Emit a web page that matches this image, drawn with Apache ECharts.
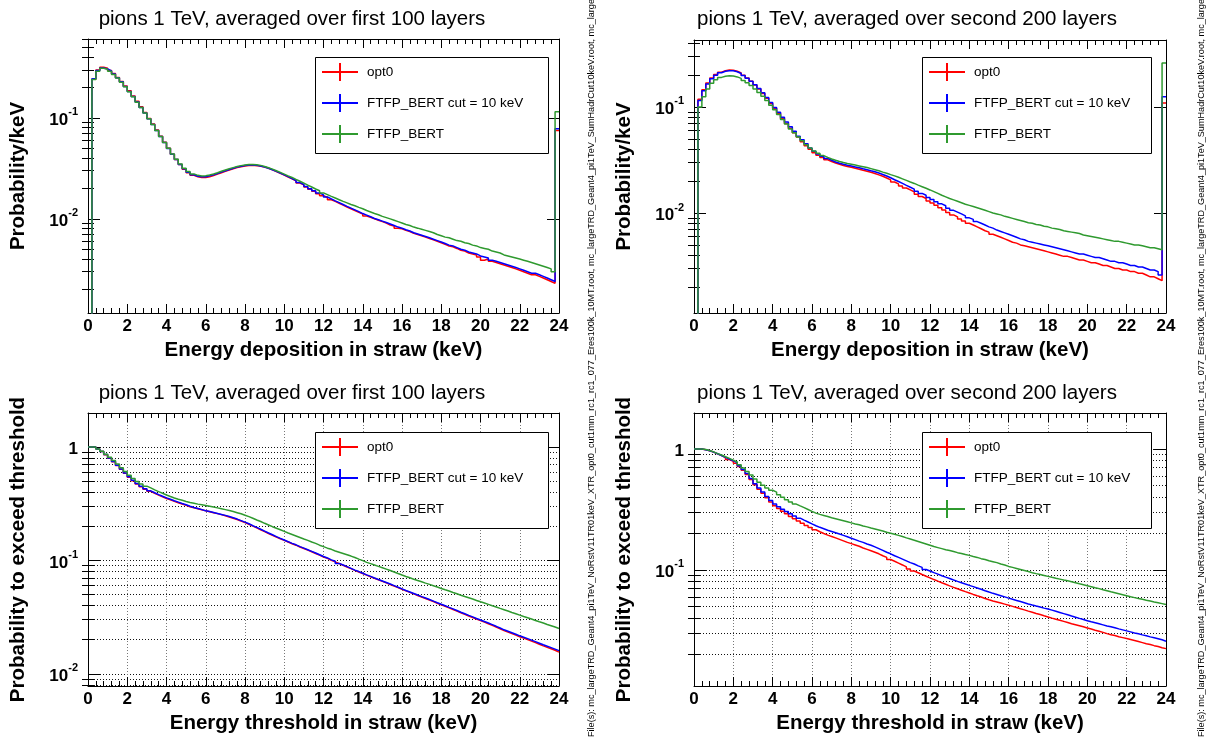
<!DOCTYPE html>
<html><head><meta charset="utf-8">
<script src="https://cdn.jsdelivr.net/npm/echarts@6/dist/echarts.min.js"></script>
<style>html,body{margin:0;padding:0;background:#fff}#c{width:1218px;height:740px}</style>
</head><body><div id="c"></div>
<script>
// ---------- data ----------
const BIN_WIDTH = 0.2; // keV, histogram bin width (120 bins from 0 to 24 keV)
const SERIES_NAMES = ['opt0', 'FTFP_BERT cut = 10 keV', 'FTFP_BERT'];
const SERIES_COLORS = ['#ff0000', '#0000ff', '#2f9a2f'];
const TITLE_FIRST = 'pions 1 TeV, averaged over first 100 layers';
const TITLE_SECOND = 'pions 1 TeV, averaged over second 200 layers';
const X_NAME_DEP = 'Energy deposition in straw (keV)';
const X_NAME_THR = 'Energy threshold in straw (keV)';
const Y_NAME_DEP = 'Probability/keV';
const Y_NAME_THR = 'Probability to exceed threshold';
const FILE_TEXT = 'File(s): mc_largeTRD_Geant4_pi1TeV_NoRstV11TR01keV_XTR_opt0_cut1mm_rc1_rc1_077_Eres100k_10MT.root, mc_largeTRD_Geant4_pi1TeV_SumHadrCut10keV.root, mc_large';

// y ranges and major (labelled) ticks
const Y_RANGE_TL = [0.00117, 0.605];
const Y_RANGE_TR = [0.00114, 0.428];
const Y_RANGE_BL = [0.0078, 1.99];
const Y_RANGE_BR = [0.011, 1.98];
const Y_MAJOR_TL = [0.01, 0.1];
const Y_MAJOR_TR = [0.01, 0.1];
const Y_MAJOR_BL = [0.01, 0.1, 1];
const Y_MAJOR_BR = [0.1, 1];

// Top-left: energy deposition, first 100 layers (probability / keV per 0.2 keV bin)
const TL_OPT0 = [0.0005,0.242,0.298,0.318,0.31,0.295,0.276,0.252,0.23,0.207,
 0.186,0.165,0.146,0.129,0.113,0.099,0.087,0.076,0.066,0.0575,
 0.05,0.0438,0.0387,0.0345,0.0311,0.0286,0.0271,0.0262,0.0257,0.0257,
 0.0262,0.0269,0.0278,0.0287,0.0296,0.0305,0.0314,0.0322,0.0329,0.0335,
 0.0338,0.0339,0.0337,0.0332,0.0326,0.0317,0.0306,0.0295,0.0283,0.0272,
 0.026,0.0249,0.0238,0.0227,0.0217,0.0207,0.0197,0.0188,0.0178,0.017,
 0.0163,0.0155,0.0149,0.0143,0.0137,0.0131,0.0126,0.0121,0.0116,0.0112,
 0.0107,0.0104,0.01,0.0097,0.0094,0.0091,0.0087,0.0085,0.0081,0.008,
 0.0077,0.0075,0.0072,0.007,0.0068,0.0066,0.0064,0.0062,0.006,0.0058,
 0.0056,0.0054,0.0053,0.0051,0.0049,0.0048,0.0046,0.0045,0.0044,0.0042,
 0.0039,0.004,0.0038,0.0037,0.0036,0.0035,0.0034,0.0033,0.0032,0.0031,
 0.003,0.0029,0.0028,0.0028,0.0027,0.0026,0.0025,0.0024,0.0023,0.075];
const TL_CUT10 = [0.0005,0.245,0.295,0.312,0.305,0.292,0.272,0.25,0.228,0.205,
 0.183,0.163,0.144,0.127,0.112,0.098,0.086,0.075,0.0655,0.057,
 0.0497,0.0437,0.0388,0.0346,0.0314,0.0289,0.0274,0.0265,0.0261,0.0262,
 0.0267,0.0274,0.0282,0.0291,0.03,0.0309,0.0318,0.0326,0.0333,0.0338,
 0.0341,0.0341,0.0339,0.0334,0.0327,0.0318,0.0307,0.0296,0.0284,0.0273,
 0.0262,0.0251,0.024,0.0229,0.0219,0.0209,0.0199,0.019,0.0181,0.0173,
 0.0165,0.0158,0.0151,0.0145,0.0139,0.0133,0.0128,0.0123,0.0118,0.0113,
 0.0109,0.0105,0.0101,0.0098,0.0095,0.0092,0.0089,0.0086,0.0083,0.0081,
 0.0078,0.0076,0.0073,0.0071,0.0069,0.0067,0.0065,0.0063,0.0061,0.0059,
 0.0057,0.0055,0.0054,0.0052,0.005,0.0049,0.0047,0.0046,0.0045,0.0043,
 0.0042,0.0041,0.0039,0.0038,0.0037,0.0036,0.0035,0.0034,0.0033,0.0032,
 0.0031,0.003,0.0029,0.0029,0.0028,0.0027,0.0026,0.0025,0.0024,0.078];
const TL_FTFP = [0.0005,0.24,0.29,0.31,0.304,0.29,0.27,0.249,0.226,0.204,
 0.182,0.162,0.143,0.127,0.112,0.098,0.086,0.075,0.0655,0.0572,
 0.05,0.044,0.039,0.0349,0.0318,0.0294,0.0279,0.027,0.0266,0.0267,
 0.0272,0.0279,0.0287,0.0296,0.0305,0.0314,0.0322,0.033,0.0337,0.0342,
 0.0345,0.0346,0.0344,0.0339,0.0331,0.0321,0.0311,0.03,0.0289,0.0278,
 0.0267,0.0257,0.0246,0.0236,0.0226,0.0216,0.0207,0.0198,0.019,0.0181,
 0.0174,0.0167,0.0161,0.0155,0.0149,0.0144,0.0139,0.0135,0.013,0.0126,
 0.0121,0.0117,0.0113,0.011,0.0106,0.0103,0.01,0.0097,0.0094,0.0091,
 0.0088,0.0086,0.0083,0.0081,0.0079,0.0077,0.0075,0.0073,0.007,0.0068,
 0.0066,0.0065,0.0063,0.0061,0.006,0.0058,0.0057,0.0055,0.0054,0.0052,
 0.0051,0.005,0.0048,0.0047,0.0046,0.0044,0.0043,0.0042,0.0041,0.004,
 0.0039,0.0038,0.0037,0.0036,0.0035,0.0034,0.0033,0.0032,0.003,0.115];

// Top-right: energy deposition, second 200 layers
const TR_OPT0 = [0.0005,0.118,0.145,0.168,0.188,0.202,0.213,0.22,0.223,0.222,
 0.217,0.209,0.199,0.188,0.175,0.161,0.148,0.134,0.121,0.108,
 0.097,0.087,0.078,0.07,0.063,0.057,0.052,0.047,0.043,0.04,
 0.037,0.035,0.0333,0.0318,0.0306,0.0296,0.0288,0.0281,0.0275,0.027,
 0.0264,0.0259,0.0253,0.0248,0.0242,0.0236,0.0229,0.0222,0.0214,0.0205,
 0.0196,0.0188,0.018,0.0172,0.0165,0.0158,0.015,0.0143,0.0137,0.013,
 0.0124,0.0118,0.0112,0.0107,0.0101,0.0096,0.0092,0.0088,0.0084,0.008,
 0.0077,0.0074,0.0071,0.0068,0.0066,0.0063,0.0061,0.0059,0.0057,0.0055,
 0.0053,0.0052,0.005,0.0049,0.0048,0.0047,0.0046,0.0045,0.0044,0.0043,
 0.0042,0.0041,0.004,0.0039,0.0039,0.0038,0.0037,0.0036,0.0036,0.0035,
 0.0034,0.0034,0.0033,0.0032,0.0032,0.0031,0.003,0.003,0.0029,0.0029,
 0.0028,0.0028,0.0027,0.0027,0.0026,0.0025,0.0025,0.0024,0.0023,0.109];
const TR_CUT10 = [0.0005,0.115,0.142,0.165,0.185,0.199,0.21,0.217,0.22,0.219,
 0.215,0.207,0.198,0.187,0.175,0.162,0.149,0.136,0.123,0.11,
 0.099,0.089,0.08,0.072,0.065,0.059,0.053,0.049,0.045,0.041,
 0.0382,0.036,0.0342,0.0327,0.0314,0.0303,0.0295,0.0288,0.0282,0.0277,
 0.0272,0.0267,0.0261,0.0256,0.025,0.0245,0.0238,0.0231,0.0223,0.0215,
 0.0206,0.0198,0.019,0.0182,0.0175,0.0168,0.016,0.0153,0.0147,0.014,
 0.0134,0.0128,0.0122,0.0117,0.0111,0.0106,0.0102,0.0098,0.0094,0.009,
 0.0087,0.0083,0.008,0.0077,0.0074,0.0072,0.0069,0.0067,0.0065,0.0063,
 0.0061,0.0059,0.0057,0.0056,0.0054,0.0053,0.0052,0.0051,0.005,0.0049,
 0.0048,0.0047,0.0046,0.0045,0.0044,0.0043,0.0042,0.0041,0.0041,0.004,
 0.0039,0.0038,0.0038,0.0037,0.0036,0.0035,0.0035,0.0034,0.0034,0.0033,
 0.0032,0.0032,0.0031,0.0031,0.003,0.0029,0.0029,0.0028,0.0026,0.125];
const TR_FTFP = [0.0005,0.1,0.125,0.148,0.167,0.181,0.19,0.195,0.197,0.196,
 0.192,0.186,0.178,0.169,0.159,0.148,0.137,0.126,0.115,0.104,
 0.094,0.085,0.076,0.069,0.062,0.057,0.052,0.048,0.044,0.041,
 0.0385,0.0365,0.0348,0.0335,0.0323,0.0314,0.0306,0.0299,0.0293,0.0288,
 0.0283,0.0278,0.0273,0.0268,0.0262,0.0256,0.025,0.0243,0.0237,0.023,
 0.0224,0.0217,0.021,0.0203,0.0196,0.019,0.0183,0.0177,0.0171,0.0165,
 0.0159,0.0153,0.0147,0.0142,0.0137,0.0133,0.0129,0.0125,0.0121,0.0118,
 0.0115,0.0112,0.0109,0.0106,0.0103,0.01,0.0098,0.0096,0.0093,0.0091,
 0.0089,0.0087,0.0085,0.0083,0.0081,0.008,0.0078,0.0077,0.0075,0.0074,
 0.0072,0.0071,0.007,0.0068,0.0067,0.0066,0.0065,0.0064,0.0062,0.0061,
 0.006,0.0059,0.0058,0.0057,0.0056,0.0055,0.0054,0.0054,0.0053,0.0052,
 0.0051,0.005,0.005,0.0049,0.0048,0.0047,0.0047,0.0046,0.0045,0.26];

// Bottom-left: probability to exceed threshold, first 100 layers
const BL_OPT0 = [1,1,0.96,0.91,0.852,0.795,0.74,0.685,0.635,0.586,
 0.541,0.503,0.471,0.445,0.424,0.406,0.39,0.376,0.363,0.351,
 0.341,0.331,0.322,0.313,0.305,0.297,0.291,0.285,0.279,0.273,
 0.268,0.263,0.258,0.253,0.247,0.241,0.235,0.229,0.222,0.215,
 0.208,0.2,0.193,0.186,0.179,0.172,0.166,0.16,0.155,0.15,
 0.145,0.14,0.136,0.131,0.127,0.123,0.119,0.115,0.111,0.107,
 0.104,0.1,0.097,0.0935,0.0904,0.0874,0.0845,0.0816,0.079,0.0765,
 0.074,0.0717,0.0694,0.0673,0.0653,0.0633,0.0613,0.0593,0.0574,0.0556,
 0.0538,0.0522,0.0506,0.049,0.0475,0.0461,0.0447,0.0433,0.0419,0.0406,
 0.0394,0.0381,0.0369,0.0357,0.0345,0.0334,0.0323,0.0313,0.0303,0.0294,
 0.0285,0.0276,0.0267,0.0258,0.0249,0.024,0.0233,0.0226,0.0219,0.0212,
 0.0206,0.02,0.0194,0.0188,0.0182,0.0176,0.0171,0.0166,0.0161,0.0155];
const BL_CUT10 = [1,1,0.96,0.91,0.855,0.8,0.745,0.69,0.64,0.59,
 0.545,0.507,0.475,0.449,0.428,0.41,0.394,0.38,0.367,0.355,
 0.345,0.335,0.326,0.317,0.309,0.3,0.292,0.286,0.28,0.274,
 0.269,0.264,0.259,0.254,0.249,0.243,0.237,0.231,0.224,0.217,
 0.21,0.202,0.195,0.188,0.181,0.174,0.168,0.162,0.156,0.151,
 0.146,0.141,0.137,0.132,0.128,0.124,0.12,0.116,0.112,0.108,
 0.105,0.101,0.098,0.094,0.091,0.088,0.085,0.082,0.0796,0.077,
 0.0745,0.0722,0.0699,0.0678,0.0658,0.0638,0.0618,0.0598,0.0579,0.056,
 0.0542,0.0526,0.051,0.0494,0.0479,0.0465,0.0451,0.0437,0.0423,0.041,
 0.0398,0.0385,0.0373,0.0361,0.0349,0.0338,0.0327,0.0317,0.0307,0.0298,
 0.0289,0.028,0.0271,0.0262,0.0253,0.0244,0.0237,0.023,0.0223,0.0216,
 0.021,0.0204,0.0198,0.0192,0.0186,0.018,0.0175,0.017,0.0165,0.016];
const BL_FTFP = [1,1,0.96,0.915,0.862,0.81,0.757,0.705,0.655,0.607,
 0.563,0.527,0.496,0.471,0.451,0.435,0.418,0.403,0.39,0.377,
 0.365,0.355,0.346,0.338,0.33,0.323,0.318,0.313,0.309,0.305,
 0.3,0.295,0.29,0.285,0.28,0.275,0.269,0.263,0.257,0.25,
 0.243,0.235,0.227,0.22,0.212,0.205,0.198,0.192,0.186,0.18,
 0.174,0.169,0.164,0.159,0.154,0.15,0.145,0.141,0.136,0.132,
 0.128,0.125,0.121,0.118,0.115,0.112,0.109,0.106,0.1025,0.0993,
 0.096,0.0935,0.091,0.0885,0.0861,0.0837,0.0813,0.0789,0.0765,0.0742,
 0.072,0.0701,0.0682,0.0664,0.0647,0.063,0.0614,0.0597,0.0581,0.0565,
 0.055,0.0536,0.0521,0.0507,0.0493,0.048,0.0468,0.0456,0.0443,0.0431,
 0.042,0.0409,0.0398,0.0388,0.0377,0.0367,0.0357,0.0347,0.0338,0.0329,
 0.032,0.0312,0.0304,0.0295,0.0287,0.028,0.0272,0.0265,0.0258,0.0251];

// Bottom-right: probability to exceed threshold, second 200 layers
const BR_OPT0 = [1,1,0.985,0.965,0.94,0.91,0.88,0.85,0.818,0.79,
 0.76,0.715,0.665,0.615,0.56,0.505,0.465,0.43,0.395,0.365,
 0.34,0.322,0.306,0.291,0.277,0.265,0.254,0.243,0.233,0.224,
 0.215,0.207,0.2,0.194,0.189,0.184,0.179,0.174,0.169,0.165,
 0.161,0.157,0.152,0.148,0.144,0.14,0.136,0.131,0.127,0.122,
 0.118,0.114,0.11,0.106,0.102,0.098,0.0948,0.0917,0.0888,0.086,
 0.0833,0.0808,0.0784,0.0761,0.0739,0.0718,0.0699,0.068,0.0662,0.0645,
 0.0628,0.0612,0.0597,0.0582,0.0568,0.0555,0.0544,0.0533,0.0522,0.0511,
 0.05,0.0489,0.0478,0.0468,0.0457,0.0447,0.0437,0.0428,0.0418,0.0409,
 0.04,0.0392,0.0384,0.0376,0.0368,0.036,0.0353,0.0346,0.0339,0.0332,
 0.0325,0.0318,0.0312,0.0305,0.0298,0.0292,0.0287,0.0281,0.0276,0.0271,
 0.0266,0.0261,0.0256,0.0251,0.0246,0.0242,0.0237,0.0233,0.0228,0.0224];
const BR_CUT10 = [1,1,0.985,0.965,0.94,0.912,0.883,0.853,0.823,0.797,
 0.77,0.725,0.675,0.625,0.57,0.515,0.475,0.44,0.405,0.375,
 0.35,0.333,0.318,0.304,0.291,0.279,0.268,0.258,0.249,0.24,
 0.232,0.225,0.219,0.213,0.208,0.203,0.198,0.193,0.188,0.183,
 0.178,0.173,0.169,0.164,0.16,0.155,0.15,0.145,0.14,0.136,
 0.131,0.127,0.123,0.119,0.115,0.112,0.108,0.105,0.101,0.098,
 0.095,0.0923,0.0897,0.0872,0.0849,0.0826,0.0805,0.0785,0.0765,0.0746,
 0.0728,0.071,0.0692,0.0674,0.0657,0.0641,0.0627,0.0613,0.0599,0.0585,
 0.0572,0.056,0.0548,0.0536,0.0524,0.0513,0.0503,0.0494,0.0484,0.0475,
 0.0466,0.0456,0.0446,0.0436,0.0426,0.0416,0.0407,0.0398,0.039,0.0381,
 0.0373,0.0366,0.0359,0.0352,0.0345,0.0339,0.0333,0.0326,0.032,0.0314,
 0.0308,0.0302,0.0297,0.0291,0.0286,0.028,0.0275,0.027,0.0265,0.0258];
const BR_FTFP = [1,1,0.99,0.97,0.945,0.915,0.89,0.862,0.835,0.808,
 0.78,0.74,0.697,0.652,0.608,0.565,0.53,0.5,0.475,0.455,
 0.44,0.418,0.398,0.38,0.364,0.35,0.338,0.327,0.316,0.305,
 0.295,0.288,0.282,0.276,0.27,0.265,0.26,0.255,0.25,0.245,
 0.24,0.236,0.231,0.227,0.222,0.218,0.214,0.21,0.205,0.201,
 0.197,0.193,0.189,0.184,0.18,0.176,0.172,0.168,0.164,0.16,
 0.156,0.153,0.15,0.147,0.145,0.142,0.139,0.137,0.134,0.132,
 0.129,0.127,0.124,0.122,0.119,0.117,0.115,0.112,0.11,0.107,
 0.105,0.103,0.101,0.099,0.097,0.095,0.0933,0.0917,0.0901,0.0885,
 0.0869,0.0854,0.084,0.0826,0.0813,0.08,0.0785,0.077,0.0756,0.0742,
 0.0728,0.0714,0.0701,0.0687,0.0674,0.0661,0.0649,0.0637,0.0625,0.0613,
 0.0601,0.0591,0.0581,0.0572,0.0562,0.0553,0.0544,0.0536,0.0527,0.0518];

// ---------- layout ----------
const FONT = '"Liberation Sans", Arial, Helvetica, sans-serif';
const PANELS = [
  { grid: {left: 88, top: 39, width: 471, height: 274}, range: Y_RANGE_TL, major: Y_MAJOR_TL,
    title: TITLE_FIRST, titlePos: [292, 19], xName: X_NAME_DEP, yName: Y_NAME_DEP,
    series: [TL_OPT0, TL_CUT10, TL_FTFP], gridLines: false, box: [315, 57, 233, 96] },
  { grid: {left: 694, top: 40, width: 472, height: 273}, range: Y_RANGE_TR, major: Y_MAJOR_TR,
    title: TITLE_SECOND, titlePos: [907, 19], xName: X_NAME_DEP, yName: Y_NAME_DEP,
    series: [TR_OPT0, TR_CUT10, TR_FTFP], gridLines: false, box: [922, 57, 229, 96] },
  { grid: {left: 88, top: 413, width: 471, height: 273}, range: Y_RANGE_BL, major: Y_MAJOR_BL,
    title: TITLE_FIRST, titlePos: [292, 393], xName: X_NAME_THR, yName: Y_NAME_THR,
    series: [BL_OPT0, BL_CUT10, BL_FTFP], gridLines: true, box: [315, 432, 233, 96] },
  { grid: {left: 694, top: 413, width: 472, height: 273}, range: Y_RANGE_BR, major: Y_MAJOR_BR,
    title: TITLE_SECOND, titlePos: [907, 393], xName: X_NAME_THR, yName: Y_NAME_THR,
    series: [BR_OPT0, BR_CUT10, BR_FTFP], gridLines: true, box: [922, 432, 229, 96] }
];

const log10 = Math.log10;
function histPoints(vals) {
  const pts = vals.map((v, i) => [+(i * BIN_WIDTH).toFixed(2), log10(v)]);
  pts.push([+(vals.length * BIN_WIDTH).toFixed(2), log10(vals[vals.length - 1])]);
  return pts;
}
function minorTicks(range) {
  const out = [];
  const lo = Math.floor(log10(range[0])), hi = Math.ceil(log10(range[1]));
  for (let e = lo; e <= hi; e++) for (let k = 2; k <= 9; k++) {
    const v = log10(k) + e;
    if (v >= log10(range[0]) && v <= log10(range[1])) out.push(v);
  }
  return out;
}
function yLabel(v) {
  const n = Math.round(v);
  if (n === 0) return '{b|1}';
  return '{b|10}{s|' + n + '}';
}
const LABEL_RICH = {
  b: {fontSize: 17, fontWeight: 'bold', fontFamily: FONT, color: '#000', lineHeight: 22, verticalAlign: 'bottom'},
  s: {fontSize: 11, fontWeight: 'bold', fontFamily: FONT, color: '#000', lineHeight: 12, verticalAlign: 'top'}
};
const BLACK = {color: '#000', width: 1};
const DOT_H = {show: true, lineStyle: {color: '#111', width: 1, type: [1, 2]}};
const DOT_V = {show: true, lineStyle: {color: '#777', width: 1, type: [1, 2]}};
const NAME_STYLE = {fontSize: 20.5, fontWeight: 'bold', color: '#000', fontFamily: FONT};
const CROSS = 'path://M0,8L17,8L17,0L19,0L19,8L36,8L36,10L19,10L19,18L17,18L17,10L0,10Z';

const xAxis = [], yAxis = [], series = [], legend = [], graphic = [];
PANELS.forEach((p, g) => {
  const ymin = log10(p.range[0]), ymax = log10(p.range[1]);
  const majors = p.major.map(log10);
  const minors = minorTicks(p.range);
  ['bottom', 'top'].forEach((pos, j) => {
    xAxis.push({
      gridIndex: g, type: 'value', min: 0, max: 24, interval: 2, position: pos,
      axisLine: {show: true, onZero: false, lineStyle: BLACK},
      axisTick: {show: true, inside: true, length: 9, lineStyle: BLACK},
      minorTick: {show: true, splitNumber: 5, length: 5, lineStyle: BLACK},
      axisLabel: {show: j === 0, margin: 5, color: '#000', fontSize: 17, fontWeight: 'bold', fontFamily: FONT},
      splitLine: j === 0 && p.gridLines ? DOT_V : {show: false},
      minorSplitLine: {show: false},
      name: j === 0 ? p.xName : '', nameLocation: 'middle', nameGap: 27, nameTextStyle: NAME_STYLE
    });
  });
  ['left', 'right'].forEach((pos, j) => {
    yAxis.push({
      gridIndex: g, type: 'value', min: ymin, max: ymax, position: pos,
      axisLine: {show: true, onZero: false, lineStyle: BLACK},
      axisTick: {show: true, inside: true, length: 12, lineStyle: BLACK, customValues: majors},
      axisLabel: {show: j === 0, customValues: majors, formatter: yLabel, rich: LABEL_RICH, margin: 10},
      splitLine: j === 0 && p.gridLines ? DOT_H : {show: false},
      name: j === 0 ? p.yName : '', nameLocation: 'middle', nameGap: 59, nameRotate: 90, nameTextStyle: NAME_STYLE
    });
    yAxis.push({
      gridIndex: g, type: 'value', min: ymin, max: ymax, position: pos, offset: 0,
      axisLine: {show: false},
      axisTick: {show: true, inside: true, length: 6, lineStyle: BLACK, customValues: minors},
      axisLabel: {show: false, customValues: minors},
      splitLine: j === 0 && p.gridLines ? DOT_H : {show: false}
    });
  });
  p.series.forEach((vals, k) => {
    series.push({
      type: 'line', name: SERIES_NAMES[k], xAxisIndex: 2 * g, yAxisIndex: 4 * g,
      data: histPoints(vals), step: 'end', showSymbol: false, symbol: 'none',
      lineStyle: {width: 1.5, color: SERIES_COLORS[k]}, itemStyle: {color: SERIES_COLORS[k]},
      clip: true, silent: true, z: 3 + k
    });
  });
  legend.push({
    left: p.box[0] + 7, top: p.box[1] + 6, orient: 'vertical', itemGap: 13,
    itemWidth: 36, itemHeight: 18, icon: CROSS, padding: 0, selectedMode: false,
    data: SERIES_NAMES, z: 30,
    textStyle: {fontSize: 13.5, color: '#000', fontFamily: FONT, padding: [0, 0, 0, 4]}
  });
  graphic.push({
    type: 'rect', z: 25, shape: {x: p.box[0] + 0.5, y: p.box[1] + 0.5, width: p.box[2], height: p.box[3]},
    style: {fill: '#fff', stroke: '#000', lineWidth: 1}
  });
  graphic.push({
    type: 'text', z: 25, x: p.titlePos[0], y: p.titlePos[1],
    style: {text: p.title, fontSize: 20.5, fontFamily: FONT, fill: '#000', align: 'center', verticalAlign: 'middle'}
  });
});
[591, 1201].forEach(x => {
  graphic.push({
    type: 'text', z: 25, x: x, y: 737, rotation: Math.PI / 2,
    style: {text: FILE_TEXT, fontSize: 9.1, fontFamily: FONT, fill: '#000', align: 'left', verticalAlign: 'middle'}
  });
});

const chart = echarts.init(document.getElementById('c'), null, {renderer: 'canvas'});
chart.setOption({
  animation: false,
  backgroundColor: '#fff',
  textStyle: {fontFamily: FONT},
  grid: PANELS.map(p => Object.assign({show: false}, p.grid)),
  xAxis, yAxis, series, legend, graphic
});
</script>
</body></html>
